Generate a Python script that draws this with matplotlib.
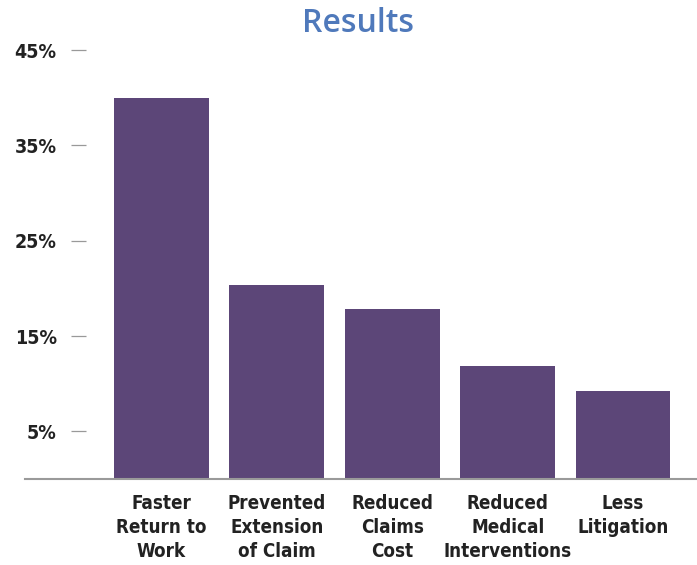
import matplotlib
matplotlib.use("Agg")
import matplotlib.pyplot as plt

# 結果長條圖:各項成效百分比
categories = ["Faster\nReturn to\nWork", "Prevented\nExtension\nof Claim",
              "Reduced\nClaims\nCost", "Reduced\nMedical\nInterventions",
              "Less\nLitigation"]
values = [40, 20.3, 17.8, 11.9, 9.2]
yticks = [5, 15, 25, 35, 45]
ytick_labels = ["5%", "15%", "25%", "35%", "45%"]

BAR_COLOR = "#5c4678"
TITLE_COLOR = "#4f79bb"
LABEL_FONT = dict(family="DejaVu Sans", stretch="condensed",
                  fontweight="bold", color="#222222")

fig = plt.figure(figsize=(6.97, 5.65), dpi=100)
# 軸框從 x=25px 延伸到右邊,底線就是 x 軸
ax = fig.add_axes([25 / 697, (565 - 479) / 565, 672 / 697, (479 - 50) / 565])

# spine 的 set_position 會重設刻度,所以要先做
ax.spines["left"].set_position(("data", -0.654))
ax.spines["left"].set_visible(False)
for side in ("top", "right"):
    ax.spines[side].set_visible(False)
ax.spines["bottom"].set_color("#9a9a9a")
ax.spines["bottom"].set_linewidth(1.5)

x = list(range(len(categories)))
ax.bar(x, values, width=0.82, color=BAR_COLOR, zorder=2)

ax.set_xlim(-1.18, 4.64)
ax.set_ylim(0, 45)

ax.set_xticks(x)
ax.set_xticklabels(categories, fontsize=13.5, linespacing=1.32, **LABEL_FONT)
ax.tick_params(axis="x", length=0, pad=11)

ax.set_yticks(yticks)
ax.set_yticklabels(ytick_labels, fontsize=14, **LABEL_FONT)
ax.tick_params(axis="y", length=11, width=0.9, color="#999999", pad=10)

fig.text(358 / 697, 1 - 24 / 565, "Results", ha="center", va="center",
         fontsize=23, fontweight="semibold", color=TITLE_COLOR,
         family=["Open Sans", "DejaVu Sans"])

fig.savefig("out.png", dpi=100)
plt.close(fig)
